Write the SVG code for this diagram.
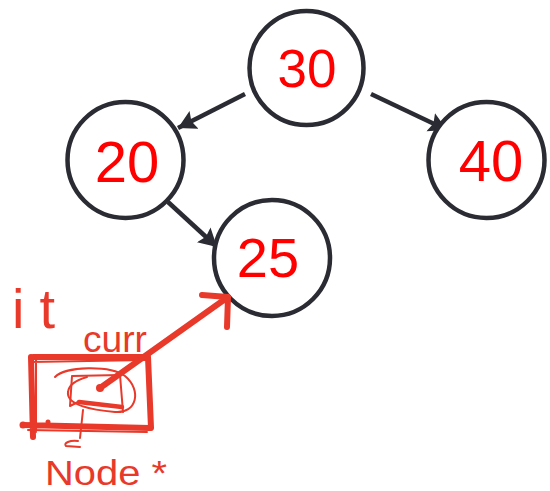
<svg xmlns="http://www.w3.org/2000/svg" width="550" height="491" viewBox="0 0 550 491">
  <style>
    .node circle { fill: #ffffff; stroke: #2a2b33; stroke-width: 4.5; }
    .node text { font-family: "Liberation Sans", Arial, sans-serif; fill: #ff0000; text-anchor: middle; dominant-baseline: central; }
    .edge { stroke: #2a2b33; stroke-width: 4.5; fill: none; marker-end: url(#arrow); }
    .ink { stroke: #e8392a; fill: none; stroke-linecap: round; stroke-linejoin: round; }
    .note { font-family: "Liberation Sans", Arial, sans-serif; fill: #e8392a; }
  </style>
  <defs>
    <marker id="arrow" markerUnits="userSpaceOnUse" markerWidth="22" markerHeight="22" refX="18" refY="10" orient="auto">
      <path d="M0,0 L18,10 L0,20 L3,10 z" fill="#2a2b33"/>
    </marker>
  </defs>
  <rect width="550" height="491" fill="#ffffff"/>

  <!-- tree edges -->
  <g id="connectors">
    <line class="edge" x1="245" y1="94" x2="178" y2="128"/>
    <line class="edge" x1="371" y1="94" x2="447" y2="130"/>
    <line class="edge" x1="168" y1="202" x2="217" y2="247"/>
  </g>

  <g id="node-30" class="node">
    <circle cx="306.5" cy="68" r="57"/>
    <text x="307" y="68" font-size="53">30</text>
  </g>
  <g id="node-20" class="node">
    <circle cx="125.5" cy="160" r="58"/>
    <text x="127" y="161" font-size="58">20</text>
  </g>
  <g id="node-40" class="node">
    <circle cx="486.5" cy="160" r="58"/>
    <text x="491" y="160" font-size="58">40</text>
  </g>
  <g id="node-25" class="node">
    <circle cx="272" cy="258" r="58"/>
    <text x="268" y="257" font-size="56">25</text>
  </g>

  <!-- hand-drawn annotation: iterator box pointing at node 25 -->
  <g id="annotation">
    <!-- outer box -->
    <path class="ink" stroke-width="6" d="M33,357 L148,357 M31,357 L33,437 M23,425 L150,428 M148,357 L151,428"/>
    <path class="ink" stroke-width="2" d="M30,362 L146,360 M36,360 L36,432 M28,430 L147,432"/>
    <circle cx="23" cy="425" r="3.5" fill="#e8392a"/>
    <circle cx="48" cy="422" r="2.5" fill="#e8392a"/>
    <!-- inner box and loop -->
    <path class="ink" stroke-width="2" d="M72,376 L120,375 L123,412 M72,376 L70,406 L78,402"/>
    <path class="ink" stroke-width="4.5" d="M79,402 L122,407"/>
    <path class="ink" stroke-width="2" d="M55,377 C65,366 110,365 125,376 C142,390 137,414 115,412 C92,410 66,405 68,392 C69,383 80,379 87,377"/>
    <!-- pointer stem below box -->
    <path class="ink" stroke-width="2" d="M83,410 L80,438 M78,441 C70,440 63,443 66,446 L80,447"/>
    <!-- pointer arrow -->
    <circle cx="100" cy="388" r="4" fill="#e8392a"/>
    <path class="ink" stroke-width="6" d="M100,388 L228,297 M202,295 L228,297 L227,327"/>
    <!-- labels -->
    <text class="note" x="12" y="328" font-size="56" textLength="43" lengthAdjust="spacing">it</text>
    <text class="note" x="83" y="352" font-size="37" textLength="64" lengthAdjust="spacingAndGlyphs">curr</text>
    <text class="note" x="45" y="485" font-size="35" textLength="122" lengthAdjust="spacingAndGlyphs">Node *</text>
  </g>
</svg>
